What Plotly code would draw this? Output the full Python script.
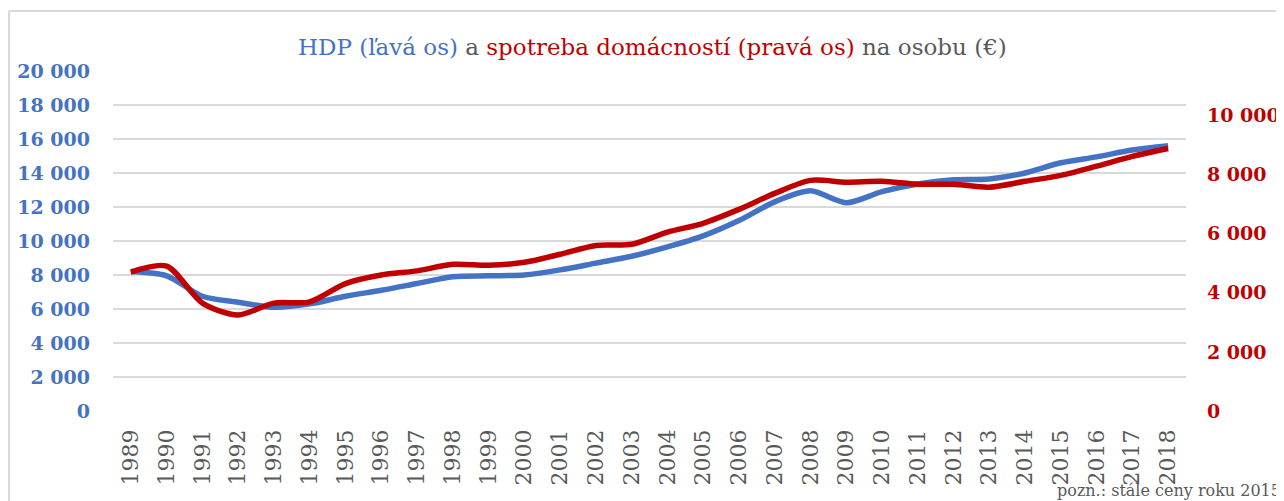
import plotly.graph_objects as go

years = [str(y) for y in range(1989, 2019)]
hdp = [8200, 7950, 6750, 6400, 6100, 6300, 6750, 7100, 7500, 7900,
       7950, 8000, 8300, 8700, 9100, 9650, 10300, 11200, 12300, 12950,
       12250, 12900, 13350, 13600, 13650, 14000, 14600, 14950, 15350, 15600]
spotreba = [4700, 4900, 3650, 3250, 3650, 3690, 4310, 4600, 4740, 4960,
            4930, 5030, 5300, 5600, 5640, 6050, 6350, 6820, 7360, 7800,
            7740, 7770, 7670, 7670, 7570, 7770, 7970, 8280, 8610, 8880]
left_ticks = list(range(0, 20001, 2000))
right_ticks = list(range(0, 10001, 2000))

BLUE = "#4472C4"
RED = "#C00000"
GRAY = "#595959"
FONT = "DejaVu Serif"

def fmt(v):
    return f"{v:,}".replace(",", " ")

fig = go.Figure()
fig.add_trace(go.Scatter(x=years, y=hdp, mode="lines", line=dict(color=BLUE, width=5.5, shape="spline", smoothing=0.8),
                         name="HDP", yaxis="y"))
fig.add_trace(go.Scatter(x=years, y=spotreba, mode="lines", line=dict(color=RED, width=5.5, shape="spline", smoothing=0.8),
                         name="spotreba", yaxis="y2"))

# page body has an 8px margin: figure is placed at (8, 8) in the window
OFF = 8
W, H = 1284 - OFF, 501 - OFF
PL, PR, PT, PB = 113 - OFF, 1186 - OFF, 71 - OFF, 411 - OFF
L, R, T, B = PL, W - PR, PT, H - PB
PW, PH = PR - PL, PB - PT

def px(x):
    return (x - OFF - PL) / PW

def py(y):
    return (PB - (y - OFF)) / PH

fig.update_layout(
    width=W, height=H,
    margin=dict(l=L, r=R, t=T, b=B, autoexpand=False),
    paper_bgcolor="white", plot_bgcolor="white",
    showlegend=False,
    font=dict(family=FONT),
    xaxis=dict(type="category", range=[-0.5, len(years) - 0.5], tickangle=-90, showgrid=False, zeroline=False,
               showline=False, ticks="", tickfont=dict(family=FONT, size=22, color=GRAY),
               ticklabelstandoff=13, automargin=False),
    yaxis=dict(range=[0, 20000], tickvals=left_ticks, ticktext=[fmt(v) for v in left_ticks],
               showgrid=True, gridcolor="#D9D9D9", gridwidth=1.5, zeroline=False, showline=False,
               tickfont=dict(family=FONT, size=19, color=BLUE, weight="bold"), ticklabelstandoff=22,
               automargin=False),
    yaxis2=dict(range=[0, 11500], tickvals=right_ticks, ticktext=[fmt(v) for v in right_ticks],
                overlaying="y", side="right", showgrid=False, zeroline=False, showline=False,
                tickfont=dict(family=FONT, size=19, color=RED, weight="bold"), ticklabelstandoff=20,
                automargin=False),
)

title = (f"<span style='color:{BLUE}'>HDP (ľavá os)</span>"
         f"<span style='color:{GRAY}'> a </span>"
         f"<span style='color:{RED}'>spotreba domácností (pravá os)</span>"
         f"<span style='color:{GRAY}'> na osobu (€)</span>")
fig.add_annotation(text=title, xref="paper", yref="paper", x=px(652), y=py(47),
                   xanchor="center", yanchor="middle", showarrow=False,
                   font=dict(family=FONT, size=23, color=GRAY))
fig.add_annotation(text="pozn.: stále ceny roku 2015", xref="paper", yref="paper",
                   x=px(1283), y=py(490), xanchor="right", yanchor="middle", showarrow=False,
                   font=dict(family=FONT, size=16, color=GRAY))
fig.add_shape(type="line", xref="paper", yref="paper", x0=px(9), x1=px(1300), y0=py(11), y1=py(11),
              line=dict(color="#D9D9D9", width=2))
fig.add_shape(type="line", xref="paper", yref="paper", x0=px(9), x1=px(9), y0=py(11), y1=py(520),
              line=dict(color="#D9D9D9", width=2))

fig.write_html("out.html")
